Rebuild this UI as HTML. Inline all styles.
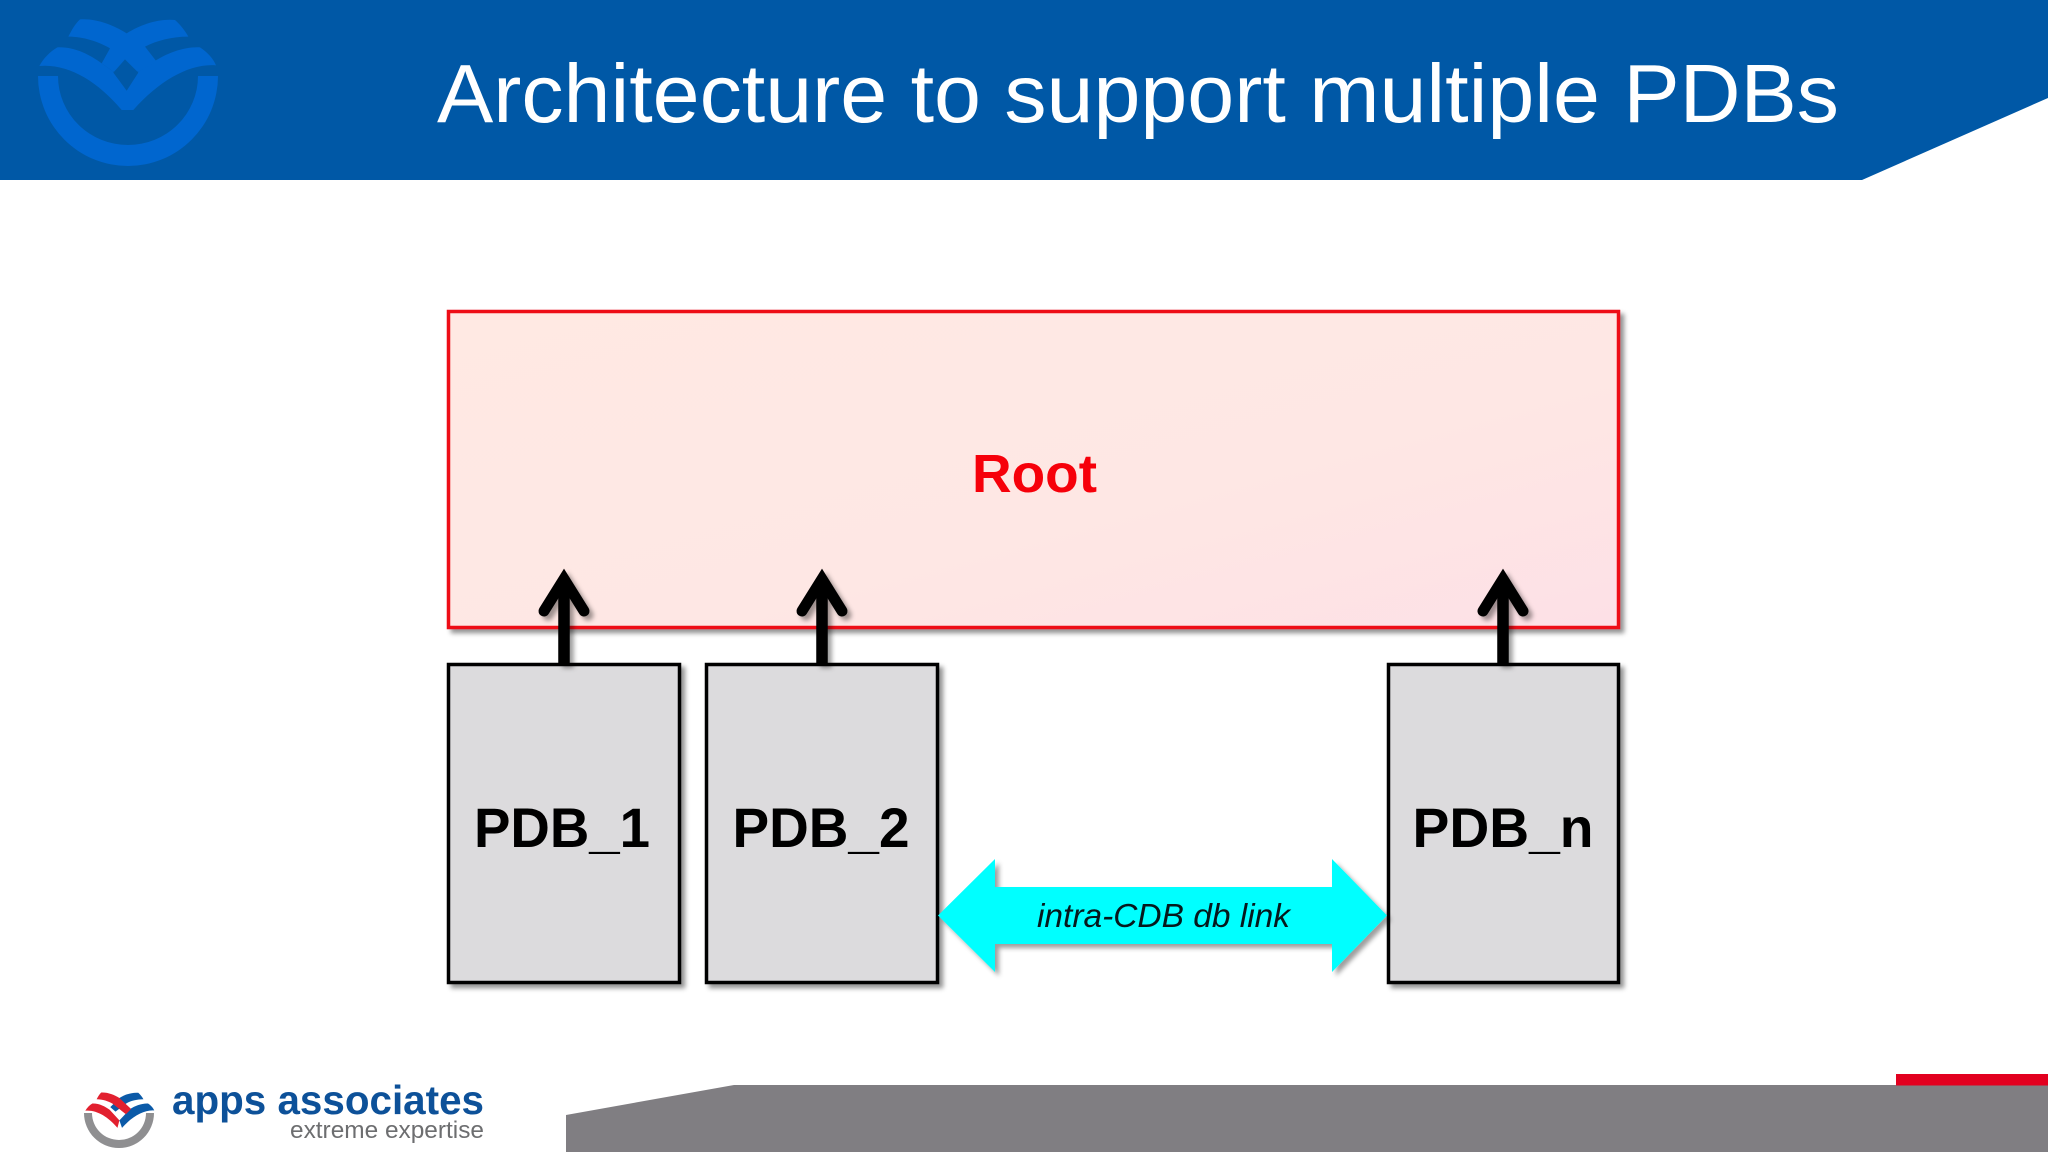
<!DOCTYPE html>
<html lang="en">
<head>
<meta charset="utf-8">
<title>Architecture to support multiple PDBs</title>
<style>
html,body{margin:0;padding:0;background:#fff;width:2048px;height:1152px;overflow:hidden}
svg{display:block}
text{font-family:"Liberation Sans",sans-serif}
</style>
</head>
<body>
<svg width="2048" height="1152" viewBox="0 0 2048 1152" xmlns="http://www.w3.org/2000/svg">
<defs>
<linearGradient id="rootg" x1="0" y1="0" x2="1" y2="1">
<stop offset="0" stop-color="#ffe9e3"/>
<stop offset=".6" stop-color="#fee7e4"/>
<stop offset="1" stop-color="#fde0e6"/>
</linearGradient>
<filter id="sh" x="-5%" y="-5%" width="112%" height="112%">
<feDropShadow dx="4" dy="4" stdDeviation="2.5" flood-color="#000" flood-opacity=".42"/>
</filter>
<filter id="sh2" x="-30%" y="-30%" width="170%" height="170%">
<feDropShadow dx="4" dy="4" stdDeviation="2.5" flood-color="#000" flood-opacity=".38"/>
</filter>
</defs>

<rect width="2048" height="1152" fill="#fff"/>

<!-- header -->
<polygon points="0,0 2048,0 2048,98 1862,180 0,180" fill="#0058a6"/>

<!-- watermark logo -->
<g fill="#0066cf">
<path d="M38,76 A90,90 0 0 0 218,76 L198,76 A70,69 0 0 1 58,76 Z"/>
<g transform="scale(.33333)">
<path d="M118,198 C130,175 150,155 172,142 C225,140 270,165 305,190 L340,215 L380,272 L415,215 L462,185 C500,160 550,140 600,142 C620,155 640,175 648,196 C570,190 480,240 400,330 L365,330 C290,240 200,190 118,198 Z"/>
<path d="M205,110 C215,90 225,72 240,58 C290,55 340,75 380,100 C420,75 475,55 525,60 C542,75 555,92 565,110 C515,110 470,122 435,140 L470,185 L415,215 L340,215 L305,190 L330,145 C295,125 250,110 205,110 Z"/>
<polygon points="375,178 415,218 380,272 340,218" fill="#0058a6"/>
</g>
</g>

<text x="437" y="122" font-size="83" fill="#fff" textLength="1402" lengthAdjust="spacingAndGlyphs">Architecture to support multiple PDBs</text>

<!-- root -->
<rect x="448.500" y="311.500" width="1170" height="316" fill="url(#rootg)" stroke="#ee0d16" stroke-width="3.500" filter="url(#sh)"/>
<text x="1034.500" y="492" font-size="54" font-weight="bold" fill="#f6000a" text-anchor="middle" textLength="125" lengthAdjust="spacingAndGlyphs">Root</text>

<!-- PDB boxes -->
<g fill="#dcdbdd" stroke="#000" stroke-width="3.500" filter="url(#sh)">
<rect x="448.500" y="664.500" width="231" height="318"/>
<rect x="706.500" y="664.500" width="231" height="318"/>
<rect x="1388.500" y="664.500" width="230" height="318"/>
</g>
<g font-size="56" font-weight="bold" fill="#000" text-anchor="middle">
<text x="562" y="847" textLength="176" lengthAdjust="spacingAndGlyphs">PDB_1</text>
<text x="821" y="847" textLength="177" lengthAdjust="spacingAndGlyphs">PDB_2</text>
<text x="1503" y="847" textLength="181" lengthAdjust="spacingAndGlyphs">PDB_n</text>
</g>

<!-- up arrows -->
<g filter="url(#sh2)">
<g fill="none" stroke="#000" stroke-width="11.500" stroke-linejoin="miter">
<path d="M564,664 V582"/>
<path d="M822,664 V582"/>
<path d="M1503,664 V582"/>
</g>
<g fill="none" stroke="#000" stroke-width="11" stroke-linecap="round" stroke-linejoin="miter">
<path d="M544,611 L564,579 L584,611"/>
<path d="M802,611 L822,579 L842,611"/>
<path d="M1483,611 L1503,579 L1523,611"/>
</g>
</g>
<g fill="#000">
<polygon points="564,570 574,587 554,587"/>
<polygon points="822,570 832,587 812,587"/>
<polygon points="1503,570 1513,587 1493,587"/>
</g>

<!-- double arrow -->
<polygon points="938,915.500 995,859 995,887 1332,887 1332,859 1387,915.500 1332,972 1332,944 995,944 995,972" fill="#00ffff" filter="url(#sh2)"/>
<text x="1163.500" y="927" font-size="33" font-style="italic" fill="#06181c" text-anchor="middle" textLength="253" lengthAdjust="spacingAndGlyphs">intra-CDB db link</text>

<!-- footer -->
<polygon points="566,1115 734,1085 2048,1085 2048,1152 566,1152" fill="#807e82"/>
<rect x="1896" y="1074" width="152" height="11.500" fill="#e2001f"/>

<!-- footer logo -->
<path d="M84,1113 A35,35 0 0 0 154,1113 L146,1113 A27,27 0 0 1 92,1113 Z" fill="#8f8f91"/>
<g transform="translate(70,1085) scale(.13)">
<path d="M118,198 C130,175 150,155 172,142 C225,140 270,165 305,190 L380,272 L365,330 C290,240 200,190 118,198 Z" fill="#e2202f"/>
<path d="M648,196 C640,175 620,155 600,142 C550,140 500,160 462,185 L380,272 L400,330 C480,240 570,190 648,196 Z" fill="#0b5aa8"/>
<path d="M565,110 C555,92 542,75 525,60 C475,55 420,75 380,100 L310,170 L350,205 L435,140 C470,122 515,110 565,110 Z" fill="#0b5aa8"/>
<path d="M205,110 C215,90 225,72 240,58 C290,55 340,75 380,100 L470,185 L430,225 L330,145 C295,125 250,110 205,110 Z" fill="#e2202f"/>
</g>
<text x="172" y="1114" font-size="41" font-weight="bold" fill="#0d5199" textLength="312" lengthAdjust="spacingAndGlyphs">apps associates</text>
<text x="290" y="1138" font-size="24" fill="#6d6e70" textLength="194" lengthAdjust="spacingAndGlyphs">extreme expertise</text>
</svg>
</body>
</html>
